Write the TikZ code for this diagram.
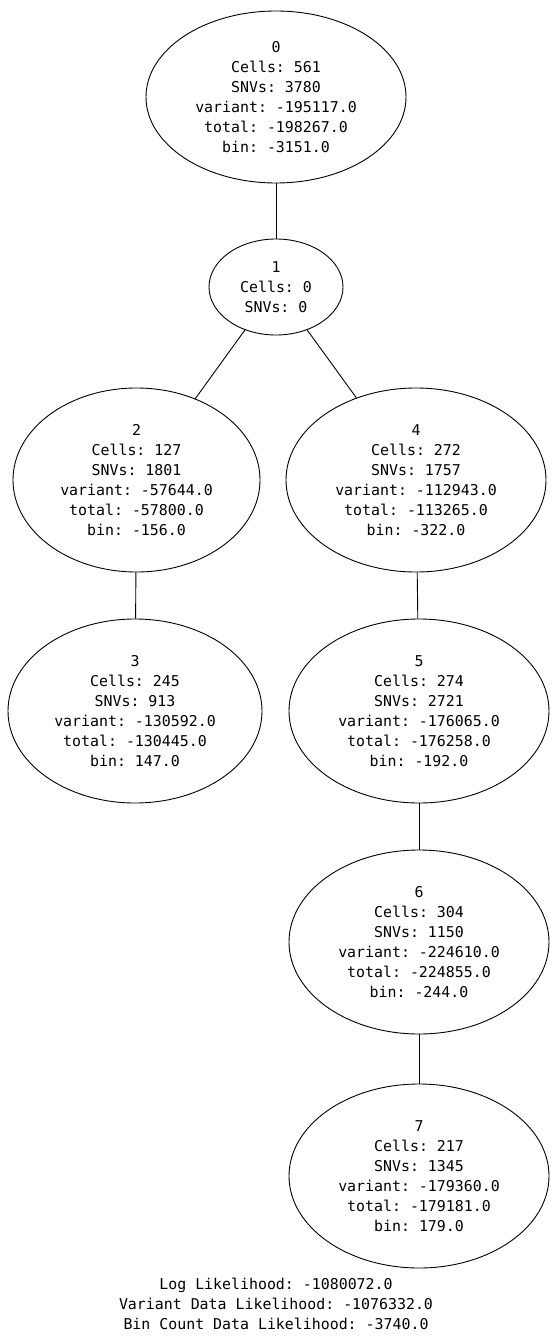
\documentclass[tikz,border=0pt]{standalone}
\usepackage{fontspec}
\setmonofont{DejaVu Sans Mono}
\usetikzlibrary{shapes.geometric}
\begin{document}
\begin{tikzpicture}[x=1pt,y=-1pt,
  treenode/.style={draw,ellipse,line width=0.9pt,font=\ttfamily\fontsize{14.9}{20}\selectfont,align=center,inner sep=0pt},
  edge/.style={line width=0.9pt},
  caption/.style={font=\ttfamily\fontsize{14.9}{20}\selectfont,align=center}]
\fill[white] (0,0) rectangle (555,1340);
\useasboundingbox (0,0) rectangle (555,1340);
\node[treenode,minimum width=260pt,minimum height=172pt] (n0) at (276,97) {0\\Cells: 561\\SNVs: 3780\\variant: -195117.0\\total: -198267.0\\bin: -3151.0};
\node[treenode,minimum width=134pt,minimum height=96pt] (n1) at (276,287) {1\\Cells: 0\\SNVs: 0};
\node[treenode,minimum width=247pt,minimum height=184pt] (n2) at (136.5,480) {2\\Cells: 127\\SNVs: 1801\\variant: -57644.0\\total: -57800.0\\bin: -156.0};
\node[treenode,minimum width=260pt,minimum height=184pt] (n4) at (416,480) {4\\Cells: 272\\SNVs: 1757\\variant: -112943.0\\total: -113265.0\\bin: -322.0};
\node[treenode,minimum width=254pt,minimum height=184pt] (n3) at (135,711) {3\\Cells: 245\\SNVs: 913\\variant: -130592.0\\total: -130445.0\\bin: 147.0};
\node[treenode,minimum width=260pt,minimum height=184pt] (n5) at (419,711) {5\\Cells: 274\\SNVs: 2721\\variant: -176065.0\\total: -176258.0\\bin: -192.0};
\node[treenode,minimum width=260pt,minimum height=184pt] (n6) at (419,942) {6\\Cells: 304\\SNVs: 1150\\variant: -224610.0\\total: -224855.0\\bin: -244.0};
\node[treenode,minimum width=260pt,minimum height=184pt] (n7) at (419,1176) {7\\Cells: 217\\SNVs: 1345\\variant: -179360.0\\total: -179181.0\\bin: 179.0};
\draw[edge] (n0) -- (n1);
\draw[edge] (n1) -- (n2);
\draw[edge] (n1) -- (n4);
\draw[edge] (n2) -- (n3);
\draw[edge] (n4) -- (n5);
\draw[edge] (n5) -- (n6);
\draw[edge] (n6) -- (n7);
\node[caption] (cap) at (276,1303.5) {Log Likelihood: -1080072.0\\Variant Data Likelihood: -1076332.0\\Bin Count Data Likelihood: -3740.0};
\end{tikzpicture}
\end{document}
